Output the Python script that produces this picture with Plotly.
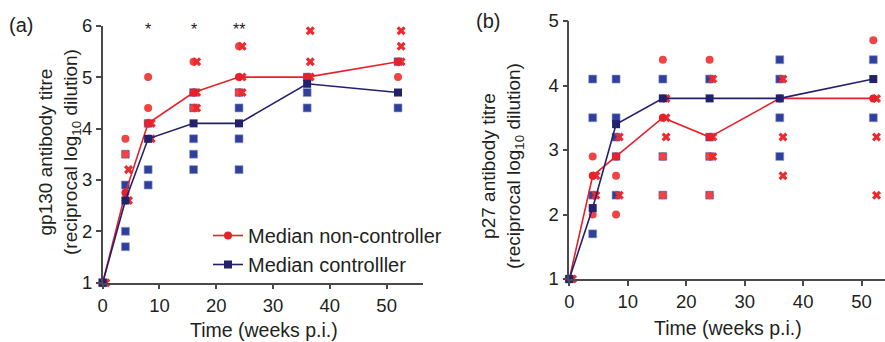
import plotly.graph_objects as go

weeks = [0, 4, 8, 16, 24, 36, 52]
x_offset = 0.55  # horizontal jitter of the cross markers

# Panel (a): gp130
a_ctrl = [[1], [3.5, 2.9, 2.0, 1.7], [4.1, 3.2, 2.9], [4.7, 4.4, 3.8, 3.5, 3.2],
          [4.7, 4.4, 3.8, 3.2], [5.0, 4.7, 4.4], [5.3, 4.4]]
a_nc_circ = [[1], [3.8, 3.5], [5.0, 4.4], [5.3, 4.4], [5.6, 4.7], [], [5.0]]
a_nc_x = [[1], [3.2, 2.6], [4.1, 3.8], [5.3, 4.7, 4.4], [5.6, 5.0, 4.7],
          [5.9, 5.3, 5.0], [5.9, 5.6, 5.3]]
a_med_nc = [1, 2.75, 4.1, 4.7, 5.0, 5.0, 5.3]
a_med_c = [1, 2.6, 3.8, 4.1, 4.1, 4.87, 4.7]
a_sig_weeks = [8, 16, 24]
a_sig_labels = ["*", "*", "**"]

# Panel (b): p27
b_ctrl = [[1], [4.1, 3.5, 2.3, 1.7], [4.1, 3.5, 3.2, 2.9, 2.3], [4.1, 2.9, 2.3],
          [4.1, 3.2, 2.9, 2.3], [4.4, 4.1, 3.5, 2.9], [4.4, 3.5]]
b_nc_circ = [[1], [2.9, 2.0], [2.6, 2.0], [4.4, 2.9, 2.3], [4.4, 2.9, 2.3], [], [4.7]]
b_nc_x = [[1], [2.6, 2.3], [3.2, 2.3], [3.8, 3.5, 3.2], [4.1, 3.2, 2.9],
          [4.1, 3.2, 2.6], [3.8, 3.2, 2.3]]
b_med_nc = [1, 2.6, 2.9, 3.5, 3.2, 3.8, 3.8]
b_med_c = [1, 2.1, 3.4, 3.8, 3.8, 3.8, 4.1]

RED_PT = "#ef4444"
RED_X = "#ee2a2e"
BLUE_PT = "#2f3f9c"
RED_LINE = "#e8202a"
NAVY = "#23216b"
FONT = "Liberation Sans"
TXT = "#231f20"

W, H = 885, 342


def flat(groups, off=0.0):
    xs, ys = [], []
    for w, vals in zip(weeks, groups):
        for v in vals:
            xs.append(w + off)
            ys.append(v)
    return xs, ys


fig = go.Figure()


def add_panel(ctrl, circ, xs_, med_nc, med_c, xa, ya, legend):
    x, y = flat(ctrl)
    fig.add_trace(go.Scatter(x=x, y=y, mode="markers", xaxis=xa, yaxis=ya, showlegend=False,
                             cliponaxis=False,
                             marker=dict(symbol="square", size=8, color=BLUE_PT,
                                         line=dict(width=0.6, color="#8e9ad0"))))
    x, y = flat(circ)
    fig.add_trace(go.Scatter(x=x, y=y, mode="markers", xaxis=xa, yaxis=ya, showlegend=False,
                             cliponaxis=False,
                             marker=dict(symbol="circle", size=8, color=RED_PT, line=dict(width=0))))
    x, y = flat(xs_, x_offset)
    fig.add_trace(go.Scatter(x=x, y=y, mode="markers", xaxis=xa, yaxis=ya, showlegend=False,
                             cliponaxis=False,
                             marker=dict(symbol="x", size=8, color=RED_X, line=dict(width=0))))
    fig.add_trace(go.Scatter(x=weeks, y=med_nc, mode="lines+markers", xaxis=xa, yaxis=ya,
                             name="Median non-controller", showlegend=legend, cliponaxis=False,
                             line=dict(color=RED_LINE, width=1.6),
                             marker=dict(symbol="circle", size=8, color=RED_LINE)))
    fig.add_trace(go.Scatter(x=weeks, y=med_c, mode="lines+markers", xaxis=xa, yaxis=ya,
                             name="Median controlller", showlegend=legend, cliponaxis=False,
                             line=dict(color=NAVY, width=1.6),
                             marker=dict(symbol="square", size=8, color=NAVY)))


add_panel(a_ctrl, a_nc_circ, a_nc_x, a_med_nc, a_med_c, "x", "y", True)
add_panel(b_ctrl, b_nc_circ, b_nc_x, b_med_nc, b_med_c, "x2", "y2", False)

axis_common = dict(showgrid=False, zeroline=False, showline=True, linecolor="#4a4a4a",
                   linewidth=1.5, ticks="outside", ticklen=5, tickwidth=1.5, tickcolor="#4a4a4a",
                   tickfont=dict(family=FONT, size=18.5, color=TXT), automargin=False)

fig.update_layout(
    width=W, height=H,
    margin=dict(l=0, r=0, t=0, b=0),
    paper_bgcolor="white", plot_bgcolor="white",
    font=dict(family=FONT, color=TXT),
    xaxis=dict(domain=[102.7 / W, 423 / W], range=[0, 56.4], tickvals=[0, 10, 20, 30, 40, 50],
               anchor="y", **axis_common),
    yaxis=dict(domain=[1 - 282.7 / H, 1 - 25.7 / H], range=[1, 6], tickvals=[1, 2, 3, 4, 5, 6],
               anchor="x", **axis_common),
    xaxis2=dict(domain=[569.3 / W, 1.0], range=[0, 54], tickvals=[0, 10, 20, 30, 40, 50],
                anchor="y2", **axis_common),
    yaxis2=dict(domain=[1 - 279 / H, 1 - 21 / H], range=[1, 5], tickvals=[1, 2, 3, 4, 5],
                anchor="x2", **axis_common),
    legend=dict(x=208 / W, y=1 - 250 / H, xanchor="left", yanchor="middle",
                bgcolor="rgba(0,0,0,0)", font=dict(family=FONT, size=20, color=TXT),
                tracegroupgap=0),
)

ann = []
for w, s in zip(a_sig_weeks, a_sig_labels):
    ann.append(dict(x=w, y=5.93, xref="x", yref="y", text=s, showarrow=False,
                    font=dict(family=FONT, size=16, color="#222222")))

def paper_ann(px, py, text, size, angle=0):
    ann.append(dict(x=px / W, y=1 - py / H, xref="paper", yref="paper", text=text,
                    showarrow=False, textangle=angle, xanchor="center", yanchor="middle",
                    font=dict(family=FONT, size=size, color=TXT)))

paper_ann(21, 25, "(a)", 20)
paper_ann(488, 21, "(b)", 20)
paper_ann(264, 330, "Time (weeks p.i.)", 19.5)
paper_ann(728, 328, "Time (weeks p.i.)", 19.5)
paper_ann(59, 152, "gp130 antibody titre<br>(reciprocal log<sub>10</sub> dilution)", 19, -90)
paper_ann(502, 166, "p27 antibody titre<br>(reciprocal log<sub>10</sub> dilution)", 19, -90)

fig.update_layout(annotations=ann)
fig.write_html("out.html")
